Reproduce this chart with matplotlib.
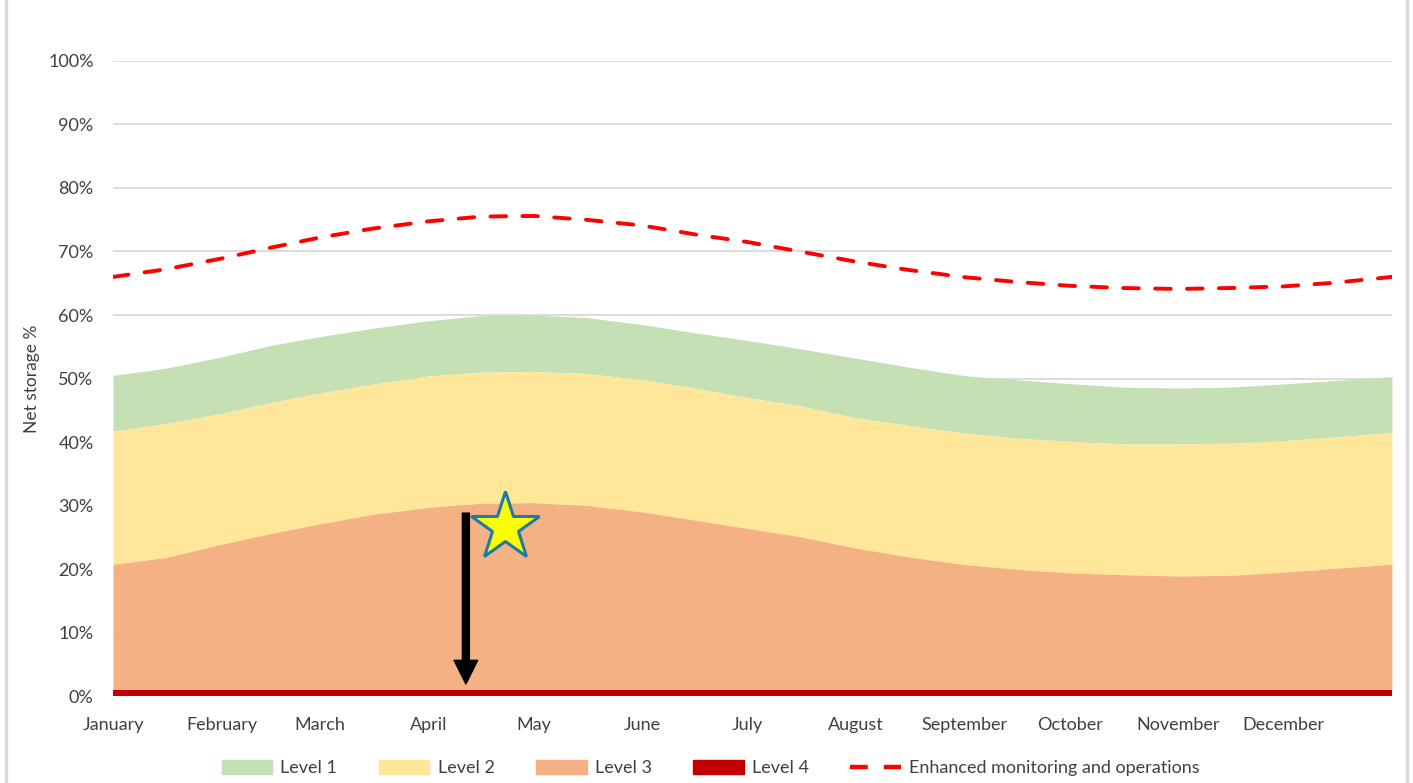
import numpy as np
import matplotlib.pyplot as plt
from matplotlib.lines import Line2D
from matplotlib.patches import Patch

plt.rcParams['font.family'] = ['Lato', 'DejaVu Sans']

# day of year for each reading (start and middle of each month)
days = [0, 15, 31, 45, 59, 74, 90, 105, 120, 135, 151, 166, 181,
        196, 212, 227, 243, 258, 273, 288, 304, 319, 334, 349, 365]

# trigger curves, % net storage
level1_top = [50.5, 51.6, 53.4, 55.2, 56.6, 57.9, 59.1, 59.9, 60.0, 59.6, 58.5, 57.2, 56.0,
              54.7, 53.2, 51.8, 50.45, 49.8, 49.2, 48.65, 48.5, 48.65, 49.15, 49.7, 50.3]
level2_top = [41.7, 42.9, 44.5, 46.2, 47.7, 49.1, 50.4, 51.0, 51.1, 50.8, 49.8, 48.5, 47.0,
              45.7, 43.8, 42.6, 41.4, 40.6, 40.1, 39.7, 39.7, 39.8, 40.2, 40.8, 41.5]
level3_top = [20.75, 21.8, 23.9, 25.6, 27.1, 28.6, 29.7, 30.35, 30.45, 30.0, 29.0, 27.7, 26.4,
              25.1, 23.3, 21.9, 20.7, 19.95, 19.4, 19.1, 18.9, 19.0, 19.5, 20.1, 20.75]
level4_top = [1.0] * len(days)
enhanced = [66.0, 67.2, 68.9, 70.6, 72.2, 73.6, 74.75, 75.5, 75.6, 75.0, 74.1, 72.7, 71.5,
            70.0, 68.4, 67.1, 65.95, 65.2, 64.6, 64.25, 64.1, 64.25, 64.5, 65.1, 66.0]

month_days = [0, 31, 59, 90, 120, 151, 181, 212, 243, 273, 304, 334]
month_names = ['January', 'February', 'March', 'April', 'May', 'June', 'July',
               'August', 'September', 'October', 'November', 'December']

# current position marker
star_day, star_value = 112, 26.6
arrow_day, arrow_from, arrow_to = 100.7, 28.8, 1.9

c_l1, c_l2, c_l3, c_l4 = '#C5E0B4', '#FFE699', '#F4B183', '#C00000'
c_enh = '#FF0000'
txt = '#404040'

x = np.array(days)
l1 = np.array(level1_top) / 100
l2 = np.array(level2_top) / 100
l3 = np.array(level3_top) / 100
l4 = np.array(level4_top) / 100
en = np.array(enhanced) / 100

fig = plt.figure(figsize=(14.13, 7.83), dpi=100)
ax = fig.add_axes([0.08, 0.1111, 0.9051, 0.811])

ax.fill_between(x, l2, l1, color=c_l1, lw=0)
ax.fill_between(x, l3, l2, color=c_l2, lw=0)
ax.fill_between(x, l4, l3, color=c_l3, lw=0)
ax.fill_between(x, 0, l4, color=c_l4, lw=0)
ax.plot(x, en, color=c_enh, lw=2.8, dashes=(4.0, 4.2), dash_capstyle='round')

ax.annotate('', xy=(arrow_day, arrow_to / 100), xytext=(arrow_day, arrow_from / 100),
            arrowprops=dict(width=5, headwidth=17, headlength=17,
                            facecolor='black', edgecolor='black', shrink=0))
ax.plot([star_day], [star_value / 100], marker='*', markersize=52,
        markerfacecolor='#FFFF00', markeredgecolor='#1F7AA8', markeredgewidth=2.2)

ax.set_xlim(0, 365)
ax.set_ylim(0, 1)
ax.set_yticks(np.arange(0, 1.01, 0.1))
ax.set_yticklabels([f'{int(round(v * 100))}%' for v in np.arange(0, 1.01, 0.1)])
ax.set_xticks(month_days)
ax.set_xticklabels(month_names)
ax.grid(axis='y', color='#D9D9D9', lw=1.3)
ax.set_axisbelow(True)
for s in ax.spines.values():
    s.set_visible(False)
ax.tick_params(axis='both', length=0, colors=txt, labelsize=13)
ax.tick_params(axis='y', pad=14)
ax.tick_params(axis='x', pad=15)
ax.set_ylabel('Net storage %', color=txt, fontsize=12.5, labelpad=6)

handles = [Patch(color=c_l1), Patch(color=c_l2), Patch(color=c_l3), Patch(color=c_l4),
           Line2D([], [], color=c_enh, lw=3.2, dashes=(4.0, 3.6))]
labels = ['Level 1', 'Level 2', 'Level 3', 'Level 4', 'Enhanced monitoring and operations']
leg = fig.legend(handles, labels, loc='lower center', bbox_to_anchor=(0.503, -0.012), ncol=5,
                 frameon=False, fontsize=13, handlelength=2.8, handleheight=0.8,
                 columnspacing=2.3, handletextpad=0.45)
for t in leg.get_texts():
    t.set_color(txt)

# chart frame edges
fig.add_artist(Line2D([0.0045, 0.0045], [0, 1], color='#D9D9D9', lw=2.5, transform=fig.transFigure))
fig.add_artist(Line2D([0.9955, 0.9955], [0, 1], color='#D9D9D9', lw=2.5, transform=fig.transFigure))

fig.savefig('out.png', dpi=100)
